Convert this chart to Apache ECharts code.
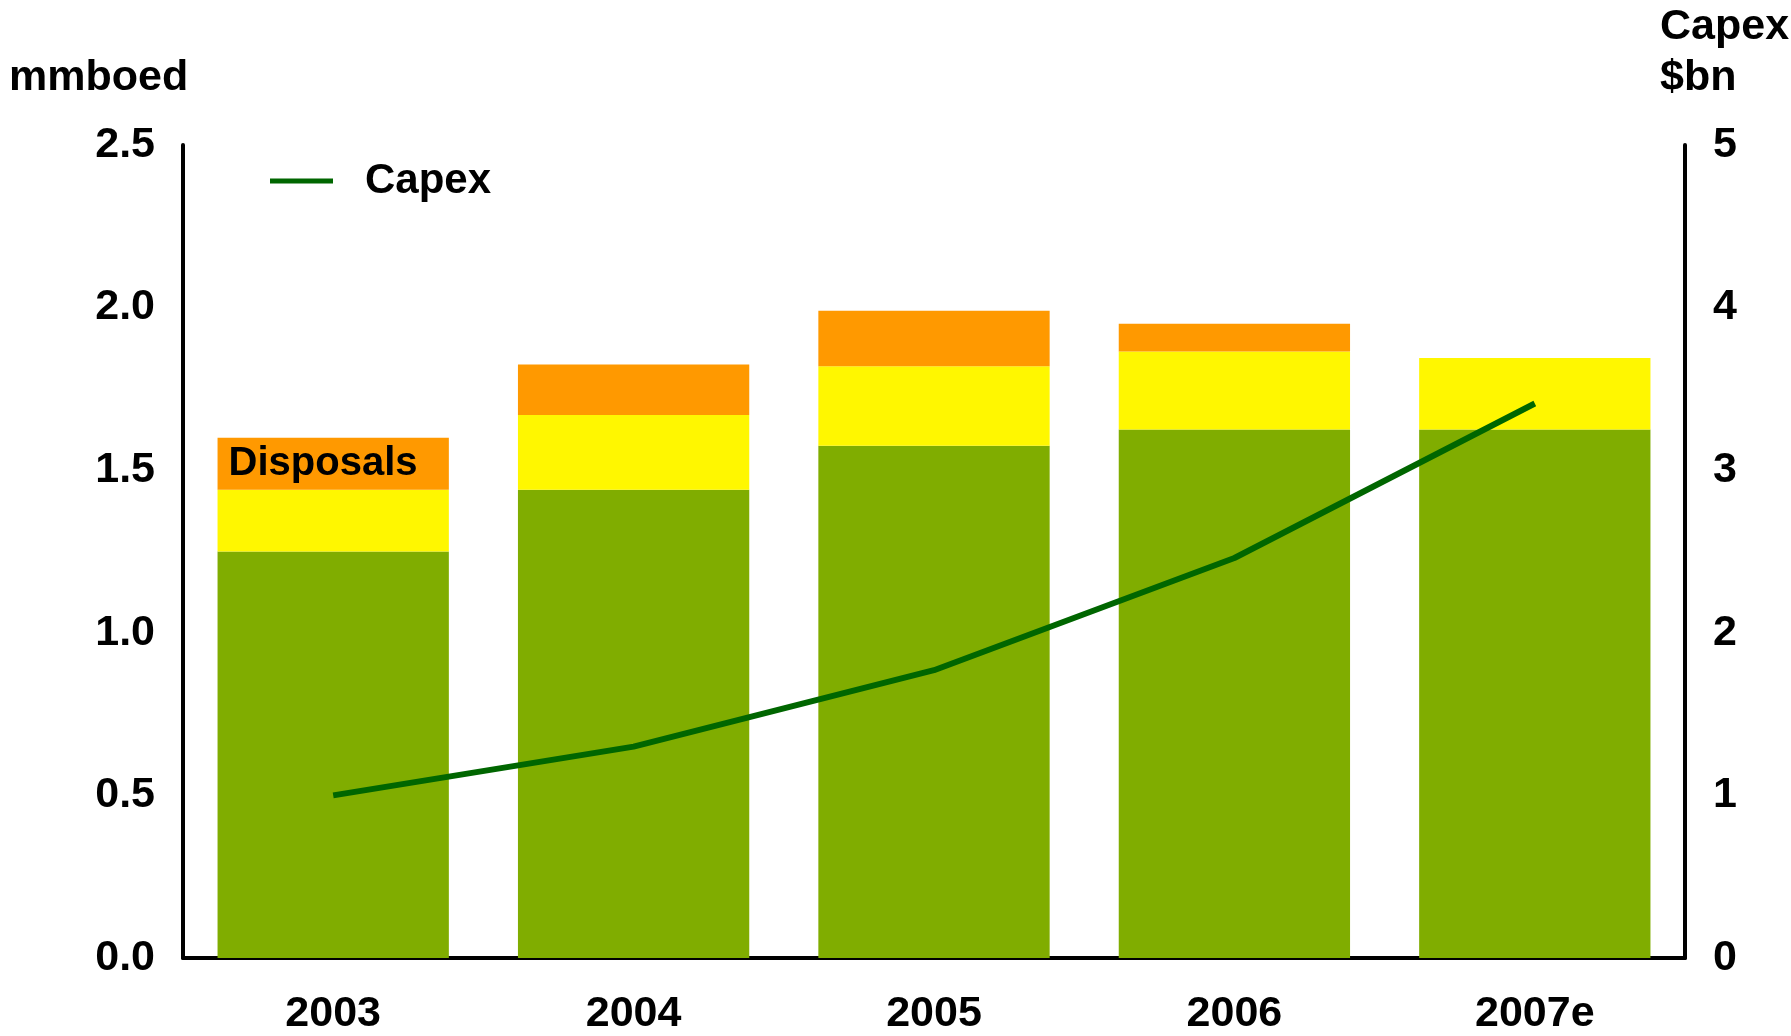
<!DOCTYPE html>
<html>
<head>
<meta charset="utf-8">
<script src="https://cdn.jsdelivr.net/npm/echarts@6/dist/echarts.min.js"></script>
<style>
  html, body { margin: 0; padding: 0; background: #fff; }
  #chart { width: 1791px; height: 1036px; }
</style>
</head>
<body>
<div id="chart"></div>
<script>
const years = ['2003', '2004', '2005', '2006', '2007e']
const base = [1.25, 1.44, 1.575, 1.625, 1.625]
const growth = [0.19, 0.23, 0.245, 0.24, 0.22]
const disposals = [0.16, 0.155, 0.17, 0.085, 0]
const capex = [1.0, 1.3, 1.77, 2.46, 3.41]

const font = '"Liberation Sans", Arial, sans-serif'
const chart = echarts.init(document.getElementById('chart'))

chart.setOption({
  animation: false,
  backgroundColor: '#fff',
  textStyle: { fontFamily: font, fontWeight: 'bold', color: '#000' },
  grid: { left: 183, right: 106, top: 145, bottom: 77 },
  legend: {
    data: ['Capex'],
    left: 265,
    top: 155,
    icon: 'rect',
    itemWidth: 63,
    itemHeight: 5,
    textStyle: { fontSize: 42, fontWeight: 'bold', color: '#000', fontFamily: font, padding: [0, 0, 0, 27] },
  },
  graphic: [
    { type: 'text', left: 9, top: 57, style: { text: 'mmboed', font: 'bold 43px ' + font, fill: '#000' } },
    { type: 'text', left: 1660, top: 2, style: { text: 'Capex\n$bn', font: 'bold 43px ' + font, fill: '#000', lineHeight: 51 } },
  ],
  xAxis: {
    type: 'category',
    data: years,
    axisLine: { lineStyle: { color: '#000', width: 4 } },
    axisTick: { show: false },
    axisLabel: { color: '#000', fontSize: 43, fontWeight: 'bold', fontFamily: font, margin: 35 },
  },
  yAxis: [
    {
      type: 'value',
      min: 0,
      max: 2.5,
      interval: 0.5,
      axisLine: { show: true, lineStyle: { color: '#000', width: 4 } },
      axisTick: { show: false },
      splitLine: { show: false },
      axisLabel: { color: '#000', fontSize: 43, fontWeight: 'bold', fontFamily: font, margin: 28, padding: [7, 0, 0, 0], formatter: (v) => v.toFixed(1) },
    },
    {
      type: 'value',
      min: 0,
      max: 5,
      interval: 1,
      axisLine: { show: true, lineStyle: { color: '#000', width: 4 } },
      axisTick: { show: false },
      splitLine: { show: false },
      axisLabel: { color: '#000', fontSize: 43, fontWeight: 'bold', fontFamily: font, margin: 28, padding: [7, 0, 0, 0] },
    },
  ],
  series: [
    {
      name: 'Base',
      type: 'bar',
      stack: 'prod',
      barCategoryGap: '23%',
      itemStyle: { color: '#80AD00' },
      data: base,
    },
    {
      name: 'Growth',
      type: 'bar',
      stack: 'prod',
      itemStyle: { color: '#FFF700' },
      data: growth,
    },
    {
      name: 'Disposals',
      type: 'bar',
      stack: 'prod',
      itemStyle: { color: '#FF9900' },
      data: disposals.map((v, i) =>
        i === 0
          ? {
              value: v,
              label: {
                show: true,
                position: 'insideLeft',
                distance: 11,
                formatter: 'Disposals',
                color: '#000',
                fontSize: 40,
                fontWeight: 'bold',
                fontFamily: font,
              },
            }
          : v
      ),
    },
    {
      name: 'Capex',
      type: 'line',
      yAxisIndex: 1,
      symbol: 'none',
      itemStyle: { color: '#006600' },
      lineStyle: { color: '#006600', width: 6 },
      data: capex,
    },
  ],
})
</script>
</body>
</html>
